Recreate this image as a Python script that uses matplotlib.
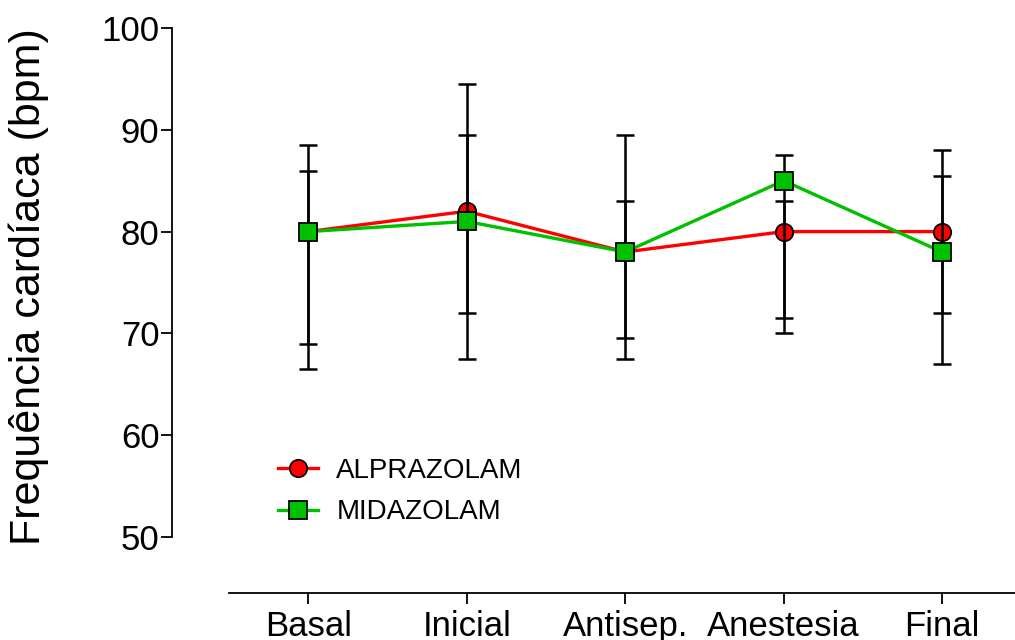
import matplotlib
matplotlib.use("Agg")
import matplotlib.pyplot as plt
import numpy as np

plt.rcParams['font.family'] = ['Liberation Sans', 'DejaVu Sans']

categories = ["Basal", "Inicial", "Antisep.", "Anestesia", "Final"]

alprazolam_mean = [80, 82, 78, 80, 80]
alprazolam_low = [66.5, 67.5, 67.5, 70.0, 67.0]
alprazolam_high = [88.5, 94.5, 89.5, 83.0, 88.0]

midazolam_mean = [80, 81, 78, 85, 78]
midazolam_low = [69.0, 72.0, 69.5, 71.5, 72.0]
midazolam_high = [86.0, 89.5, 83.0, 87.5, 85.5]

y_ticks = [50, 60, 70, 80, 90, 100]

fig = plt.figure(figsize=(10.15, 6.4), dpi=100)
ax = fig.add_axes([172 / 1015, 47 / 640, 1 - 172 / 1015, (593 - 28) / 640])

x = np.arange(len(categories))

series = [
    ("ALPRAZOLAM", alprazolam_mean, alprazolam_low, alprazolam_high, "#FF0000", "o"),
    ("MIDAZOLAM", midazolam_mean, midazolam_low, midazolam_high, "#00C000", "s"),
]

z = 2
for label, mean, low, high, color, marker in series:
    mean = np.array(mean, dtype=float)
    yerr = np.vstack([mean - np.array(low), np.array(high) - mean])
    ax.errorbar(x, mean, yerr=yerr, fmt="none", ecolor="black",
                elinewidth=1.8, capsize=6.4, capthick=1.8, zorder=z)
    ax.plot(x, mean, color=color, lw=2.4, marker=marker, markersize=12.5,
            markerfacecolor=color, markeredgecolor="black",
            markeredgewidth=1.3, label=label, zorder=z + 1)
    z += 2

ax.set_xlim(-0.86, 4.46)
ax.set_ylim(44.5, 100)
ax.set_yticks(y_ticks)
ax.set_xticks(x)
ax.set_xticklabels(categories)

for s in ("top", "right"):
    ax.spines[s].set_visible(False)
ax.spines["left"].set_bounds(50, 100)
ax.spines["bottom"].set_bounds(-0.5, 4.46)
ax.spines["left"].set_linewidth(1.3)
ax.spines["bottom"].set_linewidth(1.3)

ax.tick_params(axis="y", length=8, width=1.3, pad=1, labelsize=25)
ax.tick_params(axis="x", length=8, width=1.3, pad=4, labelsize=25)

ax.set_ylabel("Frequência cardíaca (bpm)", fontsize=31)
ax.yaxis.set_label_coords(49 / 1015, (640 - 287) / 640, transform=fig.transFigure)

ax.legend(loc="upper left", bbox_to_anchor=(278 / 1015, (640 - 458) / 640),
          bbox_transform=fig.transFigure, frameon=False, fontsize=20,
          handlelength=1.45, handletextpad=0.65, labelspacing=0.55,
          borderpad=0, borderaxespad=0)

fig.savefig("out.png", dpi=100)
